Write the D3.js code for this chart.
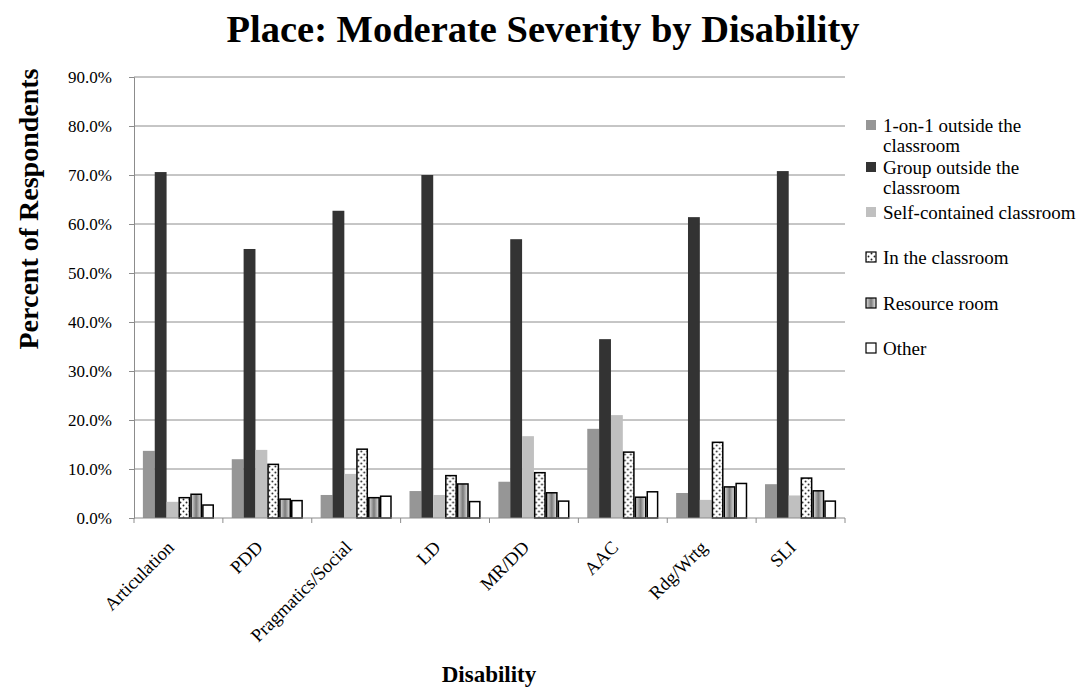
<!DOCTYPE html>
<html><head><meta charset="utf-8">
<script src="https://cdn.jsdelivr.net/npm/d3@7"></script>
<style>body{margin:0;background:#fff}svg{display:block}svg text{font-family:"Liberation Serif","Times New Roman",serif !important}</style>
</head><body>
<svg id="c" width="1083" height="694"></svg>
<script>
const categories = ["Articulation","PDD","Pragmatics/Social","LD","MR/DD","AAC","Rdg/Wrtg","SLI"];
const seriesNames = ["1-on-1 outside the classroom","Group outside the classroom","Self-contained classroom","In the classroom","Resource room","Other"];
const oneOnOne     = [13.7, 12.0,  4.7,  5.5,  7.4, 18.2,  5.1,  6.9];
const groupOutside = [70.6, 54.9, 62.7, 70.0, 56.9, 36.5, 61.4, 70.8];
const selfContained= [ 3.3, 13.9,  9.0,  4.7, 16.7, 21.0,  3.7,  4.6];
const inClassroom  = [ 4.3, 11.1, 14.2,  8.8,  9.4, 13.6, 15.6,  8.3];
const resourceRoom = [ 5.0,  4.0,  4.3,  7.1,  5.3,  4.4,  6.5,  5.7];
const other        = [ 2.8,  3.7,  4.6,  3.5,  3.6,  5.5,  7.2,  3.6];
const yTicks = [0,10,20,30,40,50,60,70,80,90];

const seriesValues = [oneOnOne, groupOutside, selfContained, inClassroom, resourceRoom, other];
const FONT = "Liberation Serif";
const svg = d3.select("#c");
const L = 134, R = 845, T = 77, B = 518;

const defs = svg.append("defs");
const dots = defs.append("pattern").attr("id","dots").attr("width",6).attr("height",6).attr("patternUnits","userSpaceOnUse");
dots.append("rect").attr("width",6).attr("height",6).attr("fill","#fff");
dots.append("circle").attr("cx",1.5).attr("cy",1.5).attr("r",0.95).attr("fill","#222");
dots.append("circle").attr("cx",4.5).attr("cy",4.5).attr("r",0.95).attr("fill","#222");
const grad = defs.append("linearGradient").attr("id","stripe").attr("x1","0").attr("x2","1").attr("y1","0").attr("y2","0");
grad.append("stop").attr("offset","0%").attr("stop-color","#e0e0e0");
grad.append("stop").attr("offset","50%").attr("stop-color","#7a7a7a");
grad.append("stop").attr("offset","100%").attr("stop-color","#e8e8e8");

const styles = [
  {fill:"#969696", stroke:"none"},
  {fill:"#333333", stroke:"none"},
  {fill:"#c0c0c0", stroke:"none"},
  {fill:"url(#dots)", stroke:"#000"},
  {fill:"url(#stripe)", stroke:"#000"},
  {fill:"#fff", stroke:"#000"}
];

const y = d3.scaleLinear().domain([0,90]).range([B,T]);
const x0 = d3.scaleBand().domain(categories).range([L,R]).padding(0);
const bw = x0.bandwidth();
const x1 = d3.scaleBand().domain(d3.range(6)).range([bw*0.1, bw*0.9]).padding(0);

// gridlines
svg.append("g").selectAll("line").data(yTicks.slice(1)).join("line")
  .attr("x1",L).attr("x2",R).attr("y1",d=>y(d)).attr("y2",d=>y(d))
  .attr("stroke","#8c8c8c").attr("stroke-width",1);

// bars
const groups = svg.append("g").selectAll("g").data(categories).join("g")
  .attr("transform",c=>`translate(${x0(c)},0)`);
groups.selectAll("rect").data((c,i)=>seriesValues.map((s,j)=>({j, v:s[i]}))).join("rect")
  .attr("x",d=>x1(d.j)+(styles[d.j].stroke==="none"?0:0.75))
  .attr("width",d=>x1.bandwidth()-(styles[d.j].stroke==="none"?0:1.5))
  .attr("y",d=>y(d.v)+(styles[d.j].stroke==="none"?0:0.75))
  .attr("height",d=>B-y(d.v)-(styles[d.j].stroke==="none"?0:0.75))
  .attr("fill",d=>styles[d.j].fill)
  .attr("stroke",d=>styles[d.j].stroke)
  .attr("stroke-width",1.5);

// axes
const yAxis = svg.append("g").attr("transform",`translate(${L},0)`)
  .call(d3.axisLeft(y).tickValues(yTicks).tickSize(5).tickFormat(d=>d.toFixed(1)+"%"));
yAxis.attr("font-family",FONT);
yAxis.select(".domain").attr("stroke","#8c8c8c");
yAxis.selectAll(".tick line").attr("stroke","#8c8c8c");
yAxis.selectAll("text").attr("font-size",17).attr("fill","#000").attr("x",-22);

const xg = svg.append("g").attr("font-family",FONT);
xg.append("line").attr("x1",L).attr("x2",R).attr("y1",B).attr("y2",B).attr("stroke","#8c8c8c");
xg.selectAll("line.t").data(categories.concat(["__end"])).join("line").attr("class","t")
  .attr("x1",c=>c==="__end"?R:x0(c)).attr("x2",c=>c==="__end"?R:x0(c))
  .attr("y1",B).attr("y2",B+5).attr("stroke","#8c8c8c");
xg.selectAll("text").data(categories).join("text")
  .attr("transform",c=>`translate(${x0(c)+bw/2-8},${B+26}) rotate(-45)`)
  .attr("text-anchor","end").attr("font-size",18.5).attr("dy","0.35em").text(c=>c);

// titles
svg.append("text").attr("x",543).attr("y",42).attr("text-anchor","middle").attr("font-family",FONT)
  .attr("font-size",38.5).attr("font-weight","bold").text("Place: Moderate Severity by Disability");
svg.append("text").attr("transform","translate(38,209) rotate(-90)").attr("text-anchor","middle").attr("font-family",FONT)
  .attr("font-size",28).attr("font-weight","bold").text("Percent of Respondents");
svg.append("text").attr("x",489).attr("y",682).attr("text-anchor","middle").attr("font-family",FONT)
  .attr("font-size",23).attr("font-weight","bold").text("Disability");

// legend
const legendRows = [
  {j:0, lines:["1-on-1 outside the","classroom"], y:125},
  {j:1, lines:["Group outside the","classroom"], y:167},
  {j:2, lines:["Self-contained classroom"], y:212},
  {j:3, lines:["In the classroom"], y:257},
  {j:4, lines:["Resource room"], y:303},
  {j:5, lines:["Other"], y:348}
];
const lg = svg.append("g").attr("font-family",FONT).selectAll("g").data(legendRows).join("g");
lg.append("rect").attr("x",866).attr("y",d=>d.y-5).attr("width",10).attr("height",10)
  .attr("fill",d=>styles[d.j].fill).attr("stroke",d=>styles[d.j].stroke==="none"?"none":"#000").attr("stroke-width",1.2);
lg.each(function(d){
  const t = d3.select(this).append("text").attr("x",883).attr("y",d.y).attr("font-size",19);
  d.lines.forEach((ln,k)=>t.append("tspan").attr("x",883).attr("dy",k===0?"0.35em":"1.07em").text(ln));
});
</script>
</body></html>
